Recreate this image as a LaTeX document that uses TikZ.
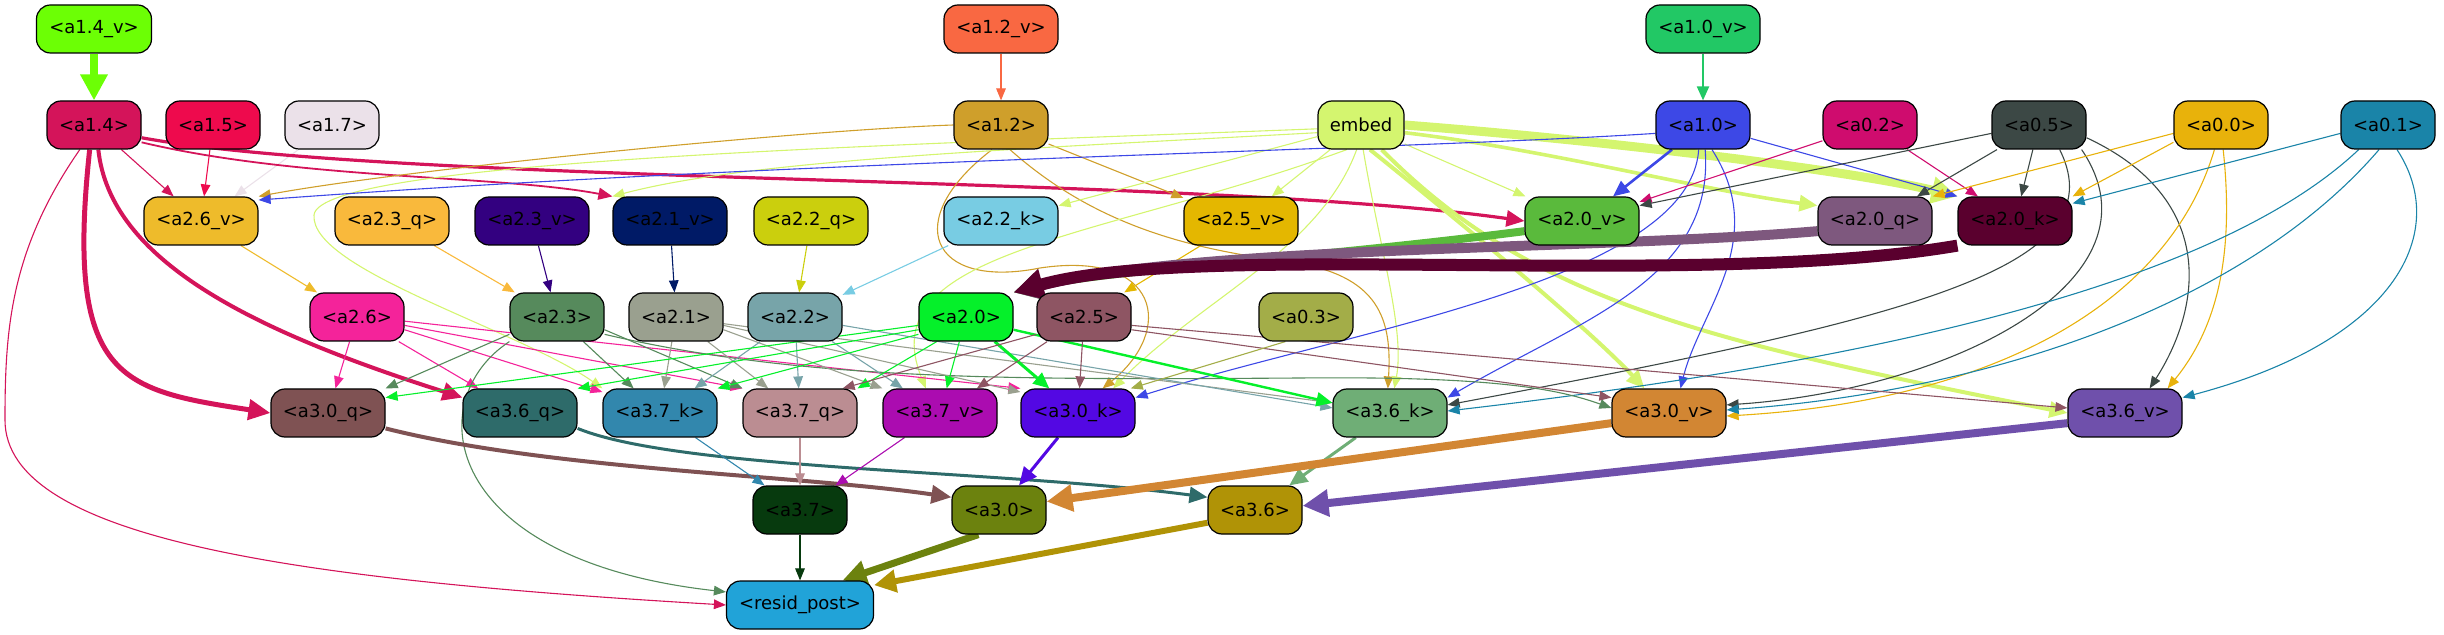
\documentclass[tikz,border=0pt]{standalone}
\usepackage{fontspec}
\setmainfont{DejaVu Sans}
\usetikzlibrary{arrows.meta}
\pgfdeclarelayer{edges}
\pgfsetlayers{edges,main}
\definecolor{c14v}{HTML}{6CFF05}
\definecolor{c12v}{HTML}{F96842}
\definecolor{c10v}{HTML}{22C865}
\definecolor{c14}{HTML}{D4145A}
\definecolor{c15}{HTML}{EE0A4D}
\definecolor{c17}{HTML}{EBE1E9}
\definecolor{c12}{HTML}{CF9F2B}
\definecolor{cemb}{HTML}{D4F56F}
\definecolor{c10}{HTML}{3D48E6}
\definecolor{c02}{HTML}{CF0C6E}
\definecolor{c05}{HTML}{3C4845}
\definecolor{c00}{HTML}{E8B20B}
\definecolor{c01}{HTML}{1A84A8}
\definecolor{c26v}{HTML}{EEBB2B}
\definecolor{c23q}{HTML}{F9B93C}
\definecolor{c23v}{HTML}{330080}
\definecolor{c21v}{HTML}{001A66}
\definecolor{c22q}{HTML}{CBCF0D}
\definecolor{c22k}{HTML}{78CCE3}
\definecolor{c25v}{HTML}{E4B700}
\definecolor{c20v}{HTML}{5ABA3C}
\definecolor{c20q}{HTML}{7E587E}
\definecolor{c20k}{HTML}{5A002E}
\definecolor{c26}{HTML}{F4239A}
\definecolor{c23}{HTML}{568A5C}
\definecolor{c21}{HTML}{9AA08F}
\definecolor{c22}{HTML}{77A4A9}
\definecolor{c20}{HTML}{05F02A}
\definecolor{c25}{HTML}{8E5563}
\definecolor{c03}{HTML}{A3AD48}
\definecolor{c30q}{HTML}{7F5253}
\definecolor{c36q}{HTML}{2E6B6A}
\definecolor{c37k}{HTML}{3287AD}
\definecolor{c37q}{HTML}{BB8D92}
\definecolor{c37v}{HTML}{AB0CB0}
\definecolor{c30k}{HTML}{5308E3}
\definecolor{c36k}{HTML}{6FAE76}
\definecolor{c30v}{HTML}{D28633}
\definecolor{c36v}{HTML}{6F50AB}
\definecolor{c37}{HTML}{073A0E}
\definecolor{c30}{HTML}{6C820E}
\definecolor{c36}{HTML}{B09306}
\definecolor{crp}{HTML}{21A3D8}
\begin{document}
\begin{tikzpicture}[x=0.5pt,y=-0.5pt,
  nd/.style={rectangle, rounded corners=7pt, draw=black, line width=0.6pt, minimum height=24pt, inner sep=0pt, text=black, font=\fontsize{9}{10}\selectfont},
  sw/.style={minimum width=47pt},
  lw/.style={minimum width=57pt},
  ed/.style={draw=#1, line width=0.55pt, -{Triangle[length=6pt,width=4.8pt]}},
  tk/.style n args={3}{line width=#1, -{Triangle[length=#2,width=#3]}}]
\useasboundingbox (0,0) rectangle (2444,635);
% nodes
\node[nd,fill=c14v,minimum width=57.5pt] (a14v) at (94,29) {<a1.4\_v>};
\node[nd,fill=c12v,lw] (a12v) at (1001,29) {<a1.2\_v>};
\node[nd,fill=c10v,lw] (a10v) at (1703,29) {<a1.0\_v>};
\node[nd,fill=c14,sw] (a14) at (94,125) {<a1.4>};
\node[nd,fill=c15,sw] (a15) at (213,125) {<a1.5>};
\node[nd,fill=c17,sw] (a17) at (332,125) {<a1.7>};
\node[nd,fill=c12,sw] (a12) at (1001,125) {<a1.2>};
\node[nd,fill=cemb,minimum width=43pt] (emb) at (1361,125) {embed};
\node[nd,fill=c10,sw] (a10) at (1703,125) {<a1.0>};
\node[nd,fill=c02,sw] (a02) at (1870,125) {<a0.2>};
\node[nd,fill=c05,sw] (a05) at (2039,125) {<a0.5>};
\node[nd,fill=c00,sw] (a00) at (2221,125) {<a0.0>};
\node[nd,fill=c01,sw] (a01) at (2388,125) {<a0.1>};
\node[nd,fill=c26v,lw] (a26v) at (201,221) {<a2.6\_v>};
\node[nd,fill=c23q,lw] (a23q) at (392,221) {<a2.3\_q>};
\node[nd,fill=c23v,lw] (a23v) at (532,221) {<a2.3\_v>};
\node[nd,fill=c21v,lw] (a21v) at (670,221) {<a2.1\_v>};
\node[nd,fill=c22q,lw] (a22q) at (811,221) {<a2.2\_q>};
\node[nd,fill=c22k,lw] (a22k) at (1001,221) {<a2.2\_k>};
\node[nd,fill=c25v,lw] (a25v) at (1241,221) {<a2.5\_v>};
\node[nd,fill=c20v,lw] (a20v) at (1582,221) {<a2.0\_v>};
\node[nd,fill=c20q,lw] (a20q) at (1875,221) {<a2.0\_q>};
\node[nd,fill=c20k,lw] (a20k) at (2015,221) {<a2.0\_k>};
\node[nd,fill=c26,sw] (a26) at (357,317) {<a2.6>};
\node[nd,fill=c23,sw] (a23) at (557,317) {<a2.3>};
\node[nd,fill=c21,sw] (a21) at (676,317) {<a2.1>};
\node[nd,fill=c22,sw] (a22) at (795,317) {<a2.2>};
\node[nd,fill=c20,sw] (a20) at (966,317) {<a2.0>};
\node[nd,fill=c25,sw] (a25) at (1084,317) {<a2.5>};
\node[nd,fill=c03,sw] (a03) at (1306,317) {<a0.3>};
\node[nd,fill=c30q,lw] (a30q) at (328,413) {<a3.0\_q>};
\node[nd,fill=c36q,lw] (a36q) at (520,413) {<a3.6\_q>};
\node[nd,fill=c37k,lw] (a37k) at (660,413) {<a3.7\_k>};
\node[nd,fill=c37q,lw] (a37q) at (800,413) {<a3.7\_q>};
\node[nd,fill=c37v,lw] (a37v) at (940,413) {<a3.7\_v>};
\node[nd,fill=c30k,lw] (a30k) at (1078,413) {<a3.0\_k>};
\node[nd,fill=c36k,lw] (a36k) at (1390,413) {<a3.6\_k>};
\node[nd,fill=c30v,lw] (a30v) at (1669,413) {<a3.0\_v>};
\node[nd,fill=c36v,lw] (a36v) at (2125,413) {<a3.6\_v>};
\node[nd,fill=c37,sw] (a37) at (800,510) {<a3.7>};
\node[nd,fill=c30,sw] (a30) at (999,510) {<a3.0>};
\node[nd,fill=c36,sw] (a36) at (1255,510) {<a3.6>};
\node[nd,fill=crp,minimum width=73.5pt] (rp) at (800,605) {<resid\_post>};
\begin{pgfonlayer}{edges}
% row 0 -> row 1
\draw[ed=c14v, tk={4pt}{13pt}{13pt}] (a14v) -- (a14);
\draw[ed=c12v] (a12v) -- (a12);
\draw[ed=c10v, tk={1.1pt}{7pt}{6pt}] (a10v) -- (a10);
% a1.4
\draw[ed=c14] (a14) -- (a26v);
\draw[ed=c15] (a15) -- (a26v);
\draw[ed=c17] (a17) -- (a26v);
\draw[ed=c14, tk={0.9pt}{7pt}{6pt}] (a14.-20) .. controls (300,180) and (500,175) .. (a21v.north west);
\draw[ed=c14, tk={1.6pt}{9pt}{8pt}] (a14.-15) .. controls (400,185) and (1200,175) .. (a20v.west);
\draw[ed=c14, tk={2.5pt}{11pt}{10pt}] (a14.260) .. controls (65,380) and (120,390) .. (a30q.west);
\draw[ed=c14, tk={2pt}{10pt}{9pt}] (a14.280) .. controls (110,260) and (250,330) .. (a36q.165);
\draw[ed=c14] (a14.240) .. controls (10,250) and (5,330) .. (5,420) .. controls (5,540) and (300,580) .. (rp.west);
% a1.2
\draw[ed=c12] (a12.west) .. controls (800,130) and (400,170) .. (a26v.north east);
\draw[ed=c12] (a12) -- (a25v);
\draw[ed=c12] (a12.250) .. controls (900,220) and (930,290) .. (1040,268) .. controls (1160,250) and (1175,330) .. (a30k.45);
\draw[ed=c12] (a12.290) .. controls (1100,230) and (1200,250) .. (1290,262) .. controls (1380,275) and (1392,320) .. (a36k.95);
% embed
\draw[ed=cemb] (emb.190) .. controls (1000,150) and (750,160) .. (a21v.north west);
\draw[ed=cemb] (emb.185) .. controls (900,145) and (320,160) .. (314,215) .. controls (310,270) and (520,330) .. (a37k.north west);
\draw[ed=cemb] (emb) -- (a22k);
\draw[ed=cemb] (emb) -- (a25v);
\draw[ed=cemb] (emb) -- (a20v);
\draw[ed=cemb, tk={1.8pt}{9pt}{8pt}] (emb.-10) .. controls (1550,150) and (1700,190) .. (a20q.165);
\draw[ed=cemb, tk={4.5pt}{13pt}{13pt}] (emb.east) .. controls (1600,140) and (1850,170) .. (a20k.north west);
\draw[ed=cemb, tk={2pt}{9pt}{8pt}] (emb.-70) .. controls (1470,230) and (1590,330) .. (a30v.135);
\draw[ed=cemb, tk={2pt}{9pt}{8pt}] (emb.-50) .. controls (1530,300) and (1700,340) .. (a36v.west);
\draw[ed=cemb] (emb.-100) .. controls (1320,250) and (1200,300) .. (a30k.35);
\draw[ed=cemb] (emb.-85) .. controls (1380,250) and (1405,330) .. (a36k.80);
\draw[ed=cemb] (emb.-120) .. controls (1100,240) and (870,250) .. (a37v.120);
% a1.0
\draw[ed=c10, tk={1.3pt}{8pt}{7pt}] (a10) -- (a20v);
\draw[ed=c10] (a10) -- (a20k.north west);
\draw[ed=c10] (a10.190) .. controls (1400,150) and (800,160) .. (a26v.20);
\draw[ed=c10] (a10.-100) .. controls (1690,280) and (1350,330) .. (a30k.15);
\draw[ed=c10] (a10.-85) .. controls (1715,280) and (1580,320) .. (a36k.15);
\draw[ed=c10] (a10.-70) .. controls (1770,240) and (1700,310) .. (a30v.65);
% a0.2
\draw[ed=c02] (a02) -- (a20v);
\draw[ed=c02] (a02) -- (a20k);
% a0.5
\draw[ed=c05] (a05.190) -- (a20v.15);
\draw[ed=c05] (a05) -- (a20q);
\draw[ed=c05] (a05) -- (a20k);
\draw[ed=c05] (a05.-50) .. controls (2120,270) and (1900,320) .. (a36k.8);
\draw[ed=c05] (a05.-30) .. controls (2170,280) and (1950,390) .. (a30v.8);
\draw[ed=c05] (a05.-15) .. controls (2220,200) and (2200,310) .. (a36v.45);
% a0.0
\draw[ed=c00] (a00.190) -- (a20q.north east);
\draw[ed=c00] (a00.200) -- (a20k.north east);
\draw[ed=c00] (a00.-105) .. controls (2170,300) and (2000,400) .. (a30v.-3);
\draw[ed=c00] (a00.-85) .. controls (2235,260) and (2215,330) .. (a36v.30);
% a0.1
\draw[ed=c01] (a01.190) -- (a20k.17);
\draw[ed=c01] (a01.-140) .. controls (2200,300) and (1800,370) .. (a36k.2);
\draw[ed=c01] (a01.-110) .. controls (2250,300) and (2000,390) .. (a30v.3);
\draw[ed=c01] (a01.-70) .. controls (2450,230) and (2400,340) .. (a36v.15);
% row 2 -> row 3
\draw[ed=c26v] (a26v) -- (a26);
\draw[ed=c23q] (a23q) -- (a23);
\draw[ed=c23v] (a23v) -- (a23);
\draw[ed=c21v] (a21v) -- (a21);
\draw[ed=c22q] (a22q) -- (a22);
\draw[ed=c22k] (a22k) -- (a22);
\draw[ed=c25v] (a25v) -- (a25);
\draw[ed=c20v, tk={4pt}{12pt}{12pt}] (a20v.190) .. controls (1300,260) and (1100,270) .. (a20.north east);
\draw[ed=c20q, tk={5pt}{14pt}{14pt}] (a20q.190) .. controls (1600,250) and (1200,245) .. (a20.north east);
\draw[ed=c20k, tk={6pt}{15pt}{15pt}] (a20k.south west) .. controls (1700,290) and (1200,240) .. (a20.north east);
% row 3 -> row 4
\draw[ed=c26] (a26) -- (a30q);
\draw[ed=c26] (a26) -- (a36q);
\draw[ed=c26] (a26.-15) -- (a37k.160);
\draw[ed=c26] (a26.-10) -- (a37q.north west);
\draw[ed=c26] (a26.-5) -- (a30k.north west);
\draw[ed=c23] (a23.200) -- (a30q.north east);
\draw[ed=c23] (a23) -- (a37k);
\draw[ed=c23] (a23.-15) -- (a37q.north west);
\draw[ed=c23] (a23.-20) .. controls (800,380) and (1000,380) .. (1300,378) .. controls (1500,376) and (1560,390) .. (a30v.175);
\draw[ed=c23] (a23.south west) .. controls (420,400) and (440,560) .. (rp.170);
\draw[ed=c21] (a21) -- (a37k);
\draw[ed=c21] (a21) -- (a37q);
\draw[ed=c21] (a21.-15) -- (a37v.north west);
\draw[ed=c21] (a21.-10) -- (a30k.160);
\draw[ed=c21] (a21.-8) -- (a36k.170);
\draw[ed=c22] (a22) -- (a37k);
\draw[ed=c22] (a22) -- (a37q);
\draw[ed=c22] (a22) -- (a37v);
\draw[ed=c22] (a22.-10) -- (a36k.175);
\draw[ed=c20] (a20.190) -- (a30q.15);
\draw[ed=c20] (a20.195) -- (a36q.north east);
\draw[ed=c20] (a20.200) -- (a37k.north east);
\draw[ed=c20] (a20.220) -- (a37q.north east);
\draw[ed=c20] (a20) -- (a37v);
\draw[ed=c20, tk={1.5pt}{8pt}{7pt}] (a20) -- (a30k);
\draw[ed=c20, tk={1.2pt}{8pt}{7pt}] (a20.-15) -- (a36k.170);
\draw[ed=c25] (a25.200) -- (a37q.30);
\draw[ed=c25] (a25) -- (a37v);
\draw[ed=c25] (a25) -- (a30k);
\draw[ed=c25] (a25.-15) -- (a30v.165);
\draw[ed=c25] (a25.-10) -- (a36v.175);
\draw[ed=c03] (a03.230) -- (a30k.25);
% row 4 -> row 5
\draw[ed=c30q, tk={2pt}{10pt}{9pt}] (a30q.-15) .. controls (550,470) and (800,475) .. (a30.165);
\draw[ed=c36q, tk={1.5pt}{9pt}{8pt}] (a36q.-15) .. controls (680,470) and (1000,470) .. (a36.165);
\draw[ed=c37k] (a37k) -- (a37);
\draw[ed=c37q] (a37q) -- (a37);
\draw[ed=c37v] (a37v) -- (a37);
\draw[ed=c30k, tk={1.5pt}{9pt}{8pt}] (a30k) -- (a30);
\draw[ed=c36k, tk={1.5pt}{9pt}{8pt}] (a36k) -- (a36);
\draw[ed=c30v, tk={4pt}{13pt}{13pt}] (a30v.190) -- (a30.10);
\draw[ed=c36v, tk={4pt}{13pt}{13pt}] (a36v.190) -- (a36.5);
% row 5 -> output
\draw[ed=c37] (a37) -- (rp);
\draw[ed=c30, tk={3.5pt}{12pt}{12pt}] (a30.230) -- (rp.30);
\draw[ed=c36, tk={3pt}{11pt}{11pt}] (a36.195) -- (rp.15);
\end{pgfonlayer}
\end{tikzpicture}
\end{document}
